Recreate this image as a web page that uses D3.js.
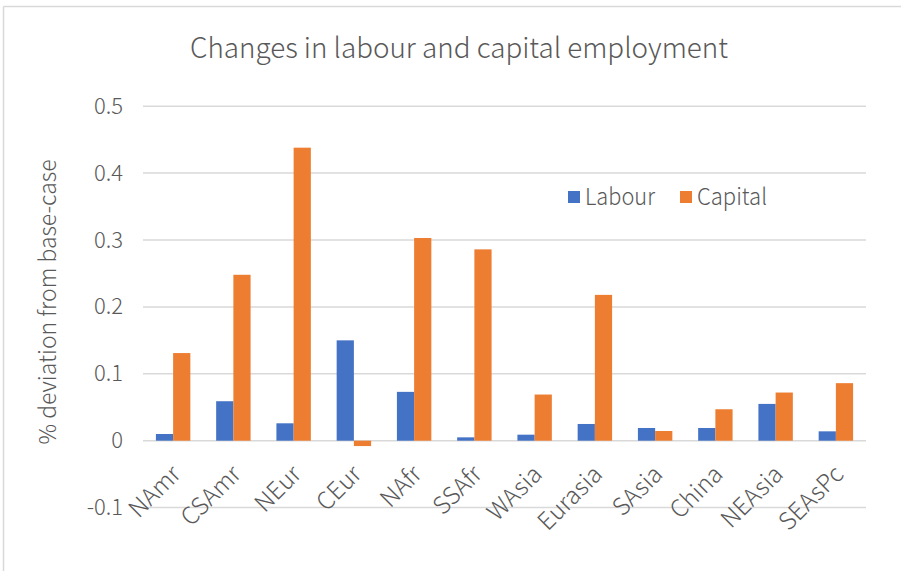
<!DOCTYPE html>
<html>
<head>
<meta charset="utf-8">
<script src="https://cdn.jsdelivr.net/npm/d3@7"></script>
<style>
  html, body { margin: 0; padding: 0; background: #fff; }
  svg { display: block; }
</style>
</head>
<body>
<svg id="chart" width="901" height="571"></svg>
<script>
// Regions and the two series (% deviation from base-case)
const regions = ["NAmr", "CSAmr", "NEur", "CEur", "NAfr", "SSAfr", "WAsia", "Eurasia", "SAsia", "China", "NEAsia", "SEAsPc"];
const labour  = [0.010, 0.059, 0.026, 0.150, 0.073, 0.005, 0.009, 0.025, 0.019, 0.019, 0.055, 0.014];
const capital = [0.131, 0.248, 0.438, -0.008, 0.303, 0.286, 0.069, 0.218, 0.0145, 0.047, 0.072, 0.086];
const seriesNames = ["Labour", "Capital"];
const yTicks = [-0.1, 0, 0.1, 0.2, 0.3, 0.4, 0.5];

const colors = ["#4472C4", "#ED7D31"];
const textColor = "#595959";
const gridColor = "#d9d9d9";
const font = "'Noto Sans CJK SC', 'Noto Sans', sans-serif";

const svg = d3.select("#chart");

// chart frame (only top and left edges fall inside the view)
svg.append("line").attr("x1", 3.5).attr("x2", 901).attr("y1", 6.5).attr("y2", 6.5)
  .attr("stroke", gridColor).attr("stroke-width", 1.5);
svg.append("line").attr("x1", 3.5).attr("x2", 3.5).attr("y1", 6.5).attr("y2", 571)
  .attr("stroke", gridColor).attr("stroke-width", 1.5);

const plot = { left: 143, right: 866, top: 106.2, bottom: 507.6 };

const x = d3.scaleBand().domain(regions).range([plot.left, plot.right]).paddingInner(0).paddingOuter(0);
const y = d3.scaleLinear().domain([-0.1, 0.5]).range([plot.bottom, plot.top]);

// bars take 2 of 3.5 units per category (gap width 150%)
const barW = x.bandwidth() / 3.5;

// title
svg.append("text")
  .attr("x", 459).attr("y", 58)
  .attr("text-anchor", "middle")
  .attr("font-family", font).attr("font-weight", 300)
  .attr("font-size", 28).attr("fill", textColor)
  .attr("textLength", 538).attr("lengthAdjust", "spacingAndGlyphs")
  .text("Changes in labour and capital employment");

// gridlines
svg.append("g").selectAll("line").data(yTicks).join("line")
  .attr("x1", plot.left).attr("x2", plot.right)
  .attr("y1", d => y(d)).attr("y2", d => y(d))
  .attr("stroke", gridColor).attr("stroke-width", 1.5);

// y axis tick labels
const yAxis = d3.axisLeft(y).tickValues(yTicks).tickSize(0).tickPadding(0)
  .tickFormat(d => d === 0 ? "0" : d3.format(".1f")(d).replace("\u2212", "-"));
const gy = svg.append("g").attr("transform", `translate(${plot.left - 20},0)`).call(yAxis);
gy.select(".domain").remove();
gy.selectAll("text")
  .attr("font-family", font).attr("font-weight", 300)
  .attr("font-size", 22).attr("fill", textColor);

// y axis title
svg.append("text")
  .attr("transform", `translate(56,302) rotate(-90)`)
  .attr("text-anchor", "middle")
  .attr("font-family", font).attr("font-weight", 300)
  .attr("font-size", 23).attr("fill", textColor)
  .attr("textLength", 285).attr("lengthAdjust", "spacingAndGlyphs")
  .text("% deviation from base-case");

// bars
const seriesData = [labour, capital];
seriesData.forEach((vals, si) => {
  svg.append("g").selectAll("rect").data(vals).join("rect")
    .attr("x", (d, i) => x(regions[i]) + barW * 0.75 + si * barW)
    .attr("width", barW)
    .attr("y", d => y(Math.max(0, d)))
    .attr("height", d => Math.abs(y(d) - y(0)))
    .attr("fill", colors[si]);
});

// category labels, rotated 45°
const xAxis = d3.axisBottom(x).tickSize(0).tickPadding(0);
const gx = svg.append("g").attr("transform", `translate(0,${y(0)})`).call(xAxis);
gx.select(".domain").remove();
gx.selectAll("text")
  .attr("font-family", font).attr("font-weight", 300)
  .attr("font-size", 24).attr("fill", textColor)
  .attr("text-anchor", "end")
  .attr("dy", null)
  .attr("y", 0)
  .attr("transform", "translate(9,35) rotate(-45)");

// legend
const legend = svg.append("g").attr("transform", "translate(568,197)");
const legendX = [0, 112];
const legendLen = [70, 70];
seriesNames.forEach((name, i) => {
  const g = legend.append("g").attr("transform", `translate(${legendX[i]},0)`);
  g.append("rect").attr("x", 0).attr("y", -6).attr("width", 12).attr("height", 12).attr("fill", colors[i]);
  g.append("text").attr("x", 17).attr("y", 8)
    .attr("font-family", font).attr("font-weight", 300)
    .attr("font-size", 23).attr("fill", textColor)
    .attr("textLength", legendLen[i]).attr("lengthAdjust", "spacingAndGlyphs")
    .text(name);
});
</script>
</body>
</html>
